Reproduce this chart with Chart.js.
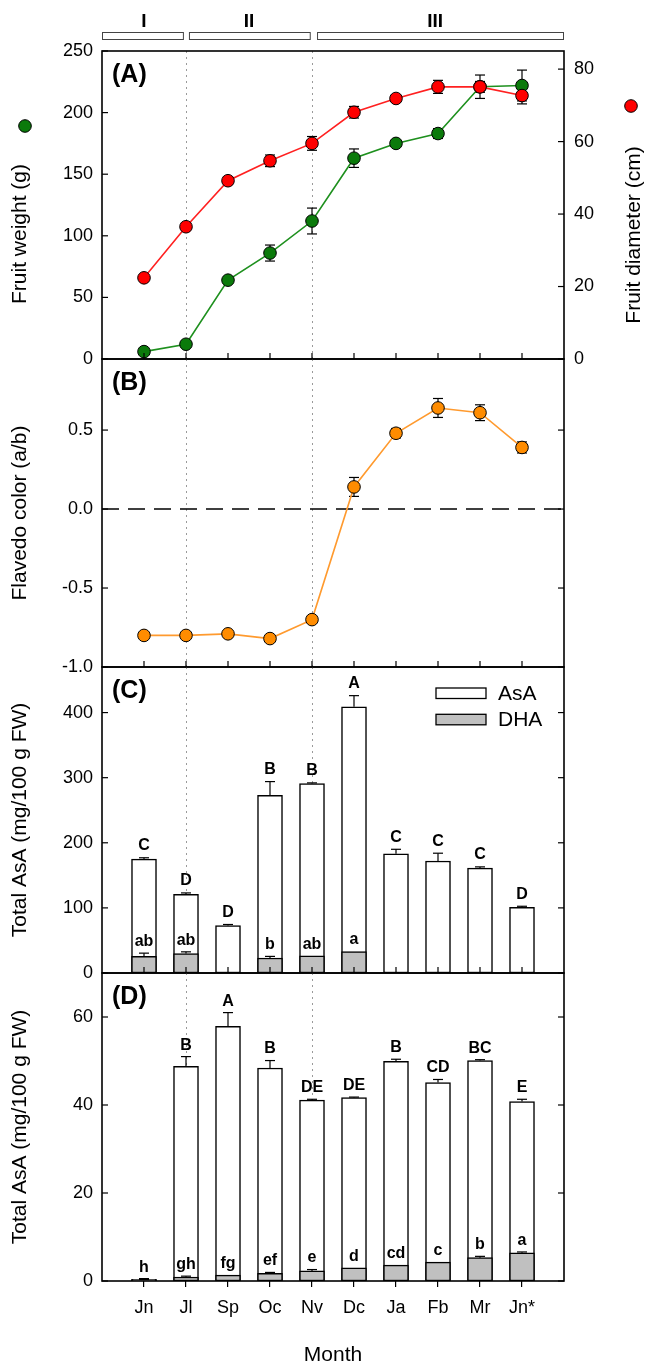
<!DOCTYPE html>
<html><head><meta charset="utf-8">
<script src="https://cdn.jsdelivr.net/npm/chart.js@4.4.1/dist/chart.umd.min.js"></script>
<style>
html,body{margin:0;padding:0;background:#fff;}
#wrap{position:relative;width:650px;height:1372px;overflow:hidden;}
#wrap canvas{position:absolute;left:0;top:0;}
</style></head><body>
<div id="wrap">
<canvas id="cA" width="650" height="1372"></canvas>
<canvas id="cB" width="650" height="1372"></canvas>
<canvas id="cC" width="650" height="1372"></canvas>
<canvas id="cD" width="650" height="1372"></canvas>
</div>
<script>
// ---------------- data ----------------
const months = ['Jn','Jl','Sp','Oc','Nv','Dc','Ja','Fb','Mr','Jn*'];

const fruitWeight      = [6, 12, 64, 86, 112, 163, 175, 183, 221, 222];
const fruitWeightErr   = [1.5, 1, 2.5, 6.5, 10.5, 7.5, 2.5, 4, 9.5, 12.5];
const fruitDiameter    = [22.4, 36.5, 49.2, 54.7, 59.5, 68.1, 71.9, 75.1, 75.1, 72.7];
const fruitDiameterErr = [0.5, 0.6, 1, 1.6, 1.9, 1.6, 1, 1.8, 1.5, 2.3];

const flavedoColor    = [-0.80, -0.80, -0.79, -0.82, -0.70, 0.14, 0.48, 0.64, 0.61, 0.39];
const flavedoColorErr = [0.012, 0.012, 0.015, 0.018, 0.02, 0.06, 0.03, 0.06, 0.05, 0.035];

const totalAsA_C     = [175, 121, 73, 273, 291, 409, 183, 172, 161, 101];
const totalAsA_C_err = [2, 2, 1.5, 21, 1, 17, 7, 12, 2, 1.5];
const dha_C          = [25.5, 30, 0, 23, 26.5, 33, 0, 0, 0, 0];
const dha_C_err      = [5, 2.5, 0, 2.5, 0, 0, 0, 0, 0, 0];
const upperLetters_C = ['C','D','D','B','B','A','C','C','C','D'];
const lowerLetters_C = ['ab','ab','','b','ab','a','','','',''];

const totalAsA_D     = [0.4, 48.8, 57.9, 48.4, 41.1, 41.7, 49.9, 45.1, 50.1, 40.8];
const totalAsA_D_err = [0.15, 2.2, 3.1, 1.7, 0.2, 0.1, 0.5, 0.7, 0.2, 0.5];
const dha_D          = [0.25, 0.9, 1.35, 1.75, 2.3, 3.0, 3.6, 4.3, 5.3, 6.4];
const dha_D_err      = [0.1, 0.2, 0, 0.2, 0.3, 0, 0, 0, 0.3, 0.2];
const upperLetters_D = ['','B','A','B','DE','DE','B','CD','BC','E'];
const lowerLetters_D = ['h','gh','fg','ef','e','d','cd','c','b','a'];

const phaseNames   = ['I','II','III'];
const phaseStart   = [0, 2.07, 5.12];
const phaseEnd     = [1.95, 4.97, 11];
const phaseLabelAt = [1, 3.5, 7.93];
const phaseBoundaries = [2, 5];

// ---------------- helpers ----------------
const FONT = "'Liberation Sans', Arial, Helvetica, sans-serif";
Chart.defaults.font.family = FONT;
Chart.defaults.color = '#000';
Chart.defaults.animation = false;

const H = 1372, PLOT_L = 102, PLOT_R = 564;
const pts = vals => vals.map((v, i) => ({x: i + 1, y: v}));

function line(ctx, x1, y1, x2, y2) { ctx.beginPath(); ctx.moveTo(x1, y1); ctx.lineTo(x2, y2); ctx.stroke(); }

function errBars(chart, vals, errs, axisId, both) {
  const ctx = chart.ctx, xs = chart.scales.x, ys = chart.scales[axisId];
  ctx.save();
  ctx.strokeStyle = '#000'; ctx.lineWidth = 1.2;
  vals.forEach((v, i) => {
    const e = errs[i]; if (!e) return;
    const x = xs.getPixelForValue(i + 1);
    const yt = ys.getPixelForValue(v + e);
    const yb = both ? ys.getPixelForValue(v - e) : ys.getPixelForValue(v);
    line(ctx, x, yt, x, yb);
    line(ctx, x - 5, yt, x + 5, yt);
    if (both) line(ctx, x - 5, yb, x + 5, yb);
  });
  ctx.restore();
}

function letters(chart, vals, errs, labels, off) {
  const ctx = chart.ctx, xs = chart.scales.x, ys = chart.scales.y;
  ctx.save();
  ctx.fillStyle = '#000'; ctx.font = 'bold 16px ' + FONT;
  ctx.textAlign = 'center'; ctx.textBaseline = 'middle';
  labels.forEach((t, i) => {
    if (!t) return;
    ctx.fillText(t, xs.getPixelForValue(i + 1), ys.getPixelForValue(vals[i] + (errs[i] || 0)) - off);
  });
  ctx.restore();
}

const decorCfg = {};

const decor = {
  id: 'decor',
  beforeDatasetsDraw(chart) {
    const o = decorCfg[chart.canvas.id]; if (!o) return;
    const ctx = chart.ctx, a = chart.chartArea, xs = chart.scales.x;
    ctx.save();
    ctx.strokeStyle = '#9a9a9a'; ctx.lineWidth = 1; ctx.setLineDash([2, 4]);
    phaseBoundaries.forEach(v => {
      const x = Math.round(xs.getPixelForValue(v)) + 0.5;
      line(ctx, x, a.top, x, a.bottom);
    });
    ctx.setLineDash([]);
    if (o.zeroLine) {
      const y = chart.scales.y.getPixelForValue(0);
      ctx.strokeStyle = '#000'; ctx.lineWidth = 1.5; ctx.setLineDash([17, 9]);
      line(ctx, a.left, y, a.right, y);
      ctx.setLineDash([]);
    }
    ctx.restore();
    (o.lineErr || []).forEach(e => errBars(chart, e.vals, e.errs, e.axis, true));
  },
  afterDatasetsDraw(chart) {
    const o = decorCfg[chart.canvas.id]; if (!o) return;
    const ctx = chart.ctx, a = chart.chartArea, xs = chart.scales.x, ys = chart.scales.y;
    (o.barErr || []).forEach(e => errBars(chart, e.vals, e.errs, 'y', false));
    (o.letters || []).forEach(l => letters(chart, l.vals, l.errs, l.labels, l.off));
    ctx.save();
    ctx.strokeStyle = '#000'; ctx.lineWidth = 1.2;
    ys.ticks.forEach(t => {
      const y = ys.getPixelForValue(t.value);
      line(ctx, a.left, y, a.left + 6, y);
      if (o.mirrorRight) line(ctx, a.right - 6, y, a.right, y);
    });
    if (chart.scales.y1) chart.scales.y1.ticks.forEach(t => {
      const y = chart.scales.y1.getPixelForValue(t.value);
      line(ctx, a.right - 6, y, a.right, y);
    });
    if (o.bottomTicks) months.forEach((m, i) => {
      const x = xs.getPixelForValue(i + 1);
      line(ctx, x, a.bottom, x, a.bottom - 6);
    });
    ctx.lineWidth = 1.6;
    ctx.strokeRect(a.left, a.top, a.right - a.left, a.bottom - a.top);
    // panel label
    ctx.fillStyle = '#000'; ctx.font = 'bold 25px ' + FONT;
    ctx.textAlign = 'left'; ctx.textBaseline = 'middle';
    ctx.fillText(o.panel, a.left + 10, a.top + 24);
    // axis titles
    ctx.font = '21px ' + FONT; ctx.textAlign = 'center';
    (o.titles || []).forEach(t => {
      ctx.save(); ctx.translate(t.x, t.y); ctx.rotate(t.rot || 0);
      ctx.fillText(t.text, 0, 0); ctx.restore();
    });
    (o.dots || []).forEach(d => {
      ctx.beginPath(); ctx.arc(d.x, d.y, 6.3, 0, Math.PI * 2);
      ctx.fillStyle = d.color; ctx.fill(); ctx.lineWidth = 1; ctx.strokeStyle = '#000'; ctx.stroke();
    });
    // legend
    if (o.legend) {
      chart.data.datasets.forEach((d, i) => {
        const bx = a.right - 128, by = a.top + 21 + i * 26.3;
        ctx.fillStyle = d.backgroundColor; ctx.fillRect(bx, by, 50, 10.5);
        ctx.strokeStyle = '#000'; ctx.lineWidth = 1.3; ctx.strokeRect(bx, by, 50, 10.5);
        ctx.fillStyle = '#000'; ctx.font = '21px ' + FONT; ctx.textAlign = 'left'; ctx.textBaseline = 'middle';
        ctx.fillText(d.label, bx + 62, by + 6);
      });
    }
    // phases
    if (o.phases) {
      phaseNames.forEach((p, i) => {
        const x1 = xs.getPixelForValue(phaseStart[i]), x2 = xs.getPixelForValue(phaseEnd[i]);
        ctx.fillStyle = '#fff'; ctx.fillRect(x1, 32, x2 - x1, 7);
        ctx.strokeStyle = '#444'; ctx.lineWidth = 1; ctx.strokeRect(x1 + 0.5, 32.5, x2 - x1 - 1, 7);
        ctx.fillStyle = '#000'; ctx.font = 'bold 19px ' + FONT; ctx.textAlign = 'center'; ctx.textBaseline = 'middle';
        ctx.fillText(p, xs.getPixelForValue(phaseLabelAt[i]), 22);
      });
    }
    ctx.restore();
  }
};
Chart.register(decor);

function yAxis(min, max, step, fmt) {
  return {
    position: 'left', min, max,
    grid: {display: false, drawTicks: false}, border: {display: false},
    ticks: {stepSize: step, includeBounds: false, padding: 9, font: {size: 18}, color: '#000',
            callback: fmt || (v => v)},
    afterFit: s => { s.width = PLOT_L; }
  };
}
function xHidden() {
  return {type: 'linear', min: 0, max: 11, offset: false, display: false, grid: {offset: false}};
}
function baseOpts(top, bottom, right, scales) {
  return {
    responsive: false, animation: false, events: [],
    layout: {padding: {top: top, bottom: bottom, left: 0, right: right}},
    plugins: {legend: {display: false}, tooltip: {enabled: false}},
    scales
  };
}

// ---------------- (A) ----------------
decorCfg.cA = {
  panel: '(A)', bottomTicks: true, phases: true,
  lineErr: [{vals: fruitWeight, errs: fruitWeightErr, axis: 'y'},
            {vals: fruitDiameter, errs: fruitDiameterErr, axis: 'y1'}],
  titles: [{text: 'Fruit weight (g)', x: 20, y: 234, rot: -Math.PI / 2},
           {text: 'Fruit diameter (cm)', x: 634, y: 235, rot: -Math.PI / 2}],
  dots: [{x: 25, y: 126, color: '#0b7a0b'}, {x: 631, y: 106, color: '#ff0000'}]
};
new Chart(document.getElementById('cA'), {
  type: 'line',
  data: {datasets: [
    {label: 'Fruit diameter (cm)', data: pts(fruitDiameter), yAxisID: 'y1', order: 0,
     borderColor: '#ff2020', borderWidth: 1.6, backgroundColor: '#ff0000',
     pointBackgroundColor: '#ff0000', pointBorderColor: '#000', pointBorderWidth: 1, pointRadius: 6.3},
    {label: 'Fruit weight (g)', data: pts(fruitWeight), yAxisID: 'y', order: 1,
     borderColor: '#1e901e', borderWidth: 1.6, backgroundColor: '#0b7a0b',
     pointBackgroundColor: '#0b7a0b', pointBorderColor: '#000', pointBorderWidth: 1, pointRadius: 6.3}
  ]},
  options: baseOpts(51, H - 359, 0, {
    x: xHidden(),
    y: yAxis(0, 250, 50),
    y1: {position: 'right', min: 0, max: 85,
         grid: {display: false, drawTicks: false}, border: {display: false},
         ticks: {stepSize: 20, includeBounds: false, padding: 10, font: {size: 18}, color: '#000'},
         afterFit: s => { s.width = 650 - PLOT_R; }}
  })
});

// ---------------- (B) ----------------
decorCfg.cB = {
  panel: '(B)', bottomTicks: true, mirrorRight: true, zeroLine: true,
  lineErr: [{vals: flavedoColor, errs: flavedoColorErr, axis: 'y'}],
  titles: [{text: 'Flavedo color (a/b)', x: 20, y: 513, rot: -Math.PI / 2}]
};
new Chart(document.getElementById('cB'), {
  type: 'line',
  data: {datasets: [
    {label: 'Flavedo color (a/b)', data: pts(flavedoColor),
     borderColor: '#ff9a2e', borderWidth: 1.6, backgroundColor: '#ff8c00',
     pointBackgroundColor: '#ff8c00', pointBorderColor: '#000', pointBorderWidth: 1, pointRadius: 6.3}
  ]},
  options: baseOpts(359, H - 667, 650 - PLOT_R, {
    x: xHidden(),
    y: yAxis(-1, 0.95, 0.5, v => v.toFixed(1))
  })
});

// ---------------- (C) ----------------
function barSets(total, dha) {
  return [
    {label: 'AsA', data: pts(total), backgroundColor: '#ffffff', borderColor: '#000', borderWidth: 1.5,
     borderSkipped: false, barThickness: 25, grouped: false, order: 1},
    {label: 'DHA', data: pts(dha), backgroundColor: '#c0c0c0', borderColor: '#000', borderWidth: 1.5,
     borderSkipped: false, barThickness: 25, grouped: false, order: 0}
  ];
}
decorCfg.cC = {
  panel: '(C)', bottomTicks: true, mirrorRight: true, legend: true,
  barErr: [{vals: totalAsA_C, errs: totalAsA_C_err}, {vals: dha_C, errs: dha_C_err}],
  letters: [{vals: totalAsA_C, errs: totalAsA_C_err, labels: upperLetters_C, off: 12},
            {vals: dha_C, errs: dha_C_err, labels: lowerLetters_C, off: 11.5}],
  titles: [{text: 'Total AsA (mg/100 g FW)', x: 20, y: 820, rot: -Math.PI / 2}]
};
new Chart(document.getElementById('cC'), {
  type: 'bar',
  data: {datasets: barSets(totalAsA_C, dha_C)},
  options: baseOpts(667, H - 973, 650 - PLOT_R, {
    x: xHidden(),
    y: yAxis(0, 470, 100)
  })
});

// ---------------- (D) ----------------
decorCfg.cD = {
  panel: '(D)', mirrorRight: true,
  barErr: [{vals: totalAsA_D, errs: totalAsA_D_err}, {vals: dha_D, errs: dha_D_err}],
  letters: [{vals: totalAsA_D, errs: totalAsA_D_err, labels: upperLetters_D, off: 11.5},
            {vals: dha_D, errs: dha_D_err, labels: lowerLetters_D, off: 11.5}],
  titles: [{text: 'Total AsA (mg/100 g FW)', x: 20, y: 1127, rot: -Math.PI / 2},
           {text: 'Month', x: 333, y: 1355, rot: 0}]
};
new Chart(document.getElementById('cD'), {
  type: 'bar',
  data: {datasets: barSets(totalAsA_D, dha_D)},
  options: baseOpts(973, 4, 650 - PLOT_R, {
    x: {type: 'linear', min: 0, max: 11, offset: false, position: 'bottom',
        grid: {display: true, offset: false, drawOnChartArea: false, drawTicks: true, tickLength: 6,
               color: '#000', lineWidth: 1.2},
        border: {display: false},
        ticks: {stepSize: 1, padding: 10, font: {size: 18}, color: '#000', maxRotation: 0, autoSkip: false,
                callback: v => months[v - 1] || ''},
        afterBuildTicks: s => { s.ticks = s.ticks.filter(t => t.value >= 1 && t.value <= months.length); },
        afterFit: s => { s.height = 1368 - 1281; }},
    y: yAxis(0, 70, 20)
  })
});
</script>
</body></html>
